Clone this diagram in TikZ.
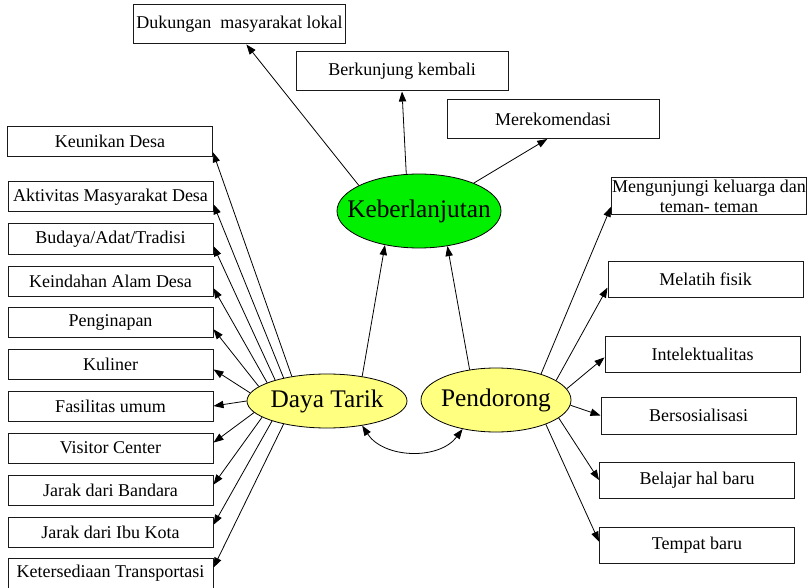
\documentclass[tikz,border=0pt]{standalone}
\usepackage{fontspec}
\setmainfont{Liberation Serif}
\usetikzlibrary{arrows.meta, shapes.geometric}
\definecolor{hubyellow}{HTML}{FFFF80}
\definecolor{hubgreen}{HTML}{00F000}
\definecolor{inkline}{HTML}{1A1A1A}
\tikzset{
  factorbox/.style={draw=inkline, line width=0.75pt, fill=white, inner sep=0pt,
    align=center, font=\fontsize{13.5}{15}\selectfont},
  leftbox/.style={factorbox, minimum width=153.75pt, minimum height=22.5pt},
  topbox/.style={factorbox, minimum width=159pt, minimum height=29.25pt},
  rightbox/.style={factorbox, minimum width=146.25pt, minimum height=27pt},
  hubnode/.style={ellipse, draw=black, line width=0.6pt, inner sep=0pt,
    font=\fontsize{19}{22}\selectfont},
  link/.style={-{Triangle[length=7.5pt,width=5.5pt]}, line width=0.6pt},
  twoway/.style={{Triangle[length=7.5pt,width=5.5pt]}-{Triangle[length=7.5pt,width=5.5pt]},
    line width=0.6pt},
}
\newcommand{\factor}[4][]{%
  \node[#1] (#2) at (#3) {#4};}
\newcommand{\hub}[5]{%
  \node[hubnode, fill=#4, #5] (#1) at (#2) {\makebox[0pt]{#3}};}

\begin{document}
\begin{tikzpicture}[x=0.75pt, y=-0.75pt]
  \useasboundingbox (0,0) rectangle (807,588);

  % the three hubs
  \hub{kb}{419,211}{Keberlanjutan}{hubgreen}{minimum width=123pt, minimum height=55.5pt}
  \hub{daya}{327,401}{Daya Tarik}{hubyellow}{minimum width=120pt, minimum height=40.5pt}
  \hub{pd}{496,400}{Pendorong}{hubyellow}{minimum width=112.5pt, minimum height=48pt}

  % outcomes
  \factor[topbox]{dk}{239.5,24.5}{Dukungan\ \ masyarakat lokal}
  \factor[topbox]{bk}{402,71.5}{Berkunjung kembali}
  \factor[topbox]{mr}{553,119}{Merekomendasi}

  % pull factors
  \factor[leftbox]{k1}{110,141.5}{Keunikan Desa}
  \factor[leftbox]{k2}{110.5,197}{Aktivitas Masyarakat Desa}
  \factor[leftbox]{k3}{110.5,239}{Budaya/Adat/Tradisi}
  \factor[leftbox]{k4}{110.5,281}{Keindahan Alam Desa}
  \factor[leftbox]{k5}{110.5,322}{Penginapan}
  \factor[leftbox]{k6}{110.5,364}{Kuliner}
  \factor[leftbox]{k7}{110.5,406}{Fasilitas umum}
  \factor[leftbox]{k8}{110.5,448}{Visitor Center}
  \factor[leftbox]{k9}{110.5,490}{Jarak dari Bandara}
  \factor[leftbox]{k10}{110.5,532}{Jarak dari Ibu Kota}
  \factor[leftbox]{k11}{110.5,573}{Ketersediaan Transportasi}

  % push factors
  \factor[rightbox, minimum height=27.75pt]{m1}{709,196.5}{Mengunjungi keluarga dan\\teman- teman}
  \factor[rightbox]{m2}{705.5,279}{Melatih fisik}
  \factor[rightbox]{m3}{702.5,354}{Intelektualitas}
  \factor[rightbox, minimum height=27.75pt]{m4}{698.5,415.5}{Bersosialisasi}
  \factor[rightbox]{m5}{697,480}{Belajar hal baru}
  \factor[rightbox]{m6}{697,545}{Tempat baru}

  \draw[link] (kb.157) -- (dk.-71);
  \draw[link] (kb.109) -- (bk.south);
  \draw[link] (kb.27) -- (mr.-106);
  \draw[link] (daya.35) -- (kb.225);
  \draw[link] (pd.131) -- (kb.309);

  \draw[link] (daya.145) -- (k1.-6);
  \draw[link] (daya.152) -- (k2.-4.5);
  \draw[link] (daya.158) -- (k3.-4.5);
  \draw[link] (daya.163) -- (k4.-4);
  \draw[link] (daya.168) -- (k5.-4.5);
  \draw[link] (daya.174) -- (k6.-3.5);
  \draw[link] (daya.180) -- (k7.east);
  \draw[link] (daya.189) -- (k8.3);
  \draw[link] (daya.194) -- (k9.3);
  \draw[link] (daya.200) -- (k10.4);
  \draw[link] (daya.208) -- (k11.3.5);

  \draw[link] (pd.30) -- (m1.186);
  \draw[link] (pd.18) -- (m2.185);
  \draw[link] (pd.9) -- (m3.182);
  \draw[link] (pd.-4) -- (m4.west);
  \draw[link] (pd.-16) -- (m5.west);
  \draw[link] (pd.-26) -- (m6.178);

  \draw[twoway] (daya.325) to[bend right=55] (pd.221);
\end{tikzpicture}
\end{document}
